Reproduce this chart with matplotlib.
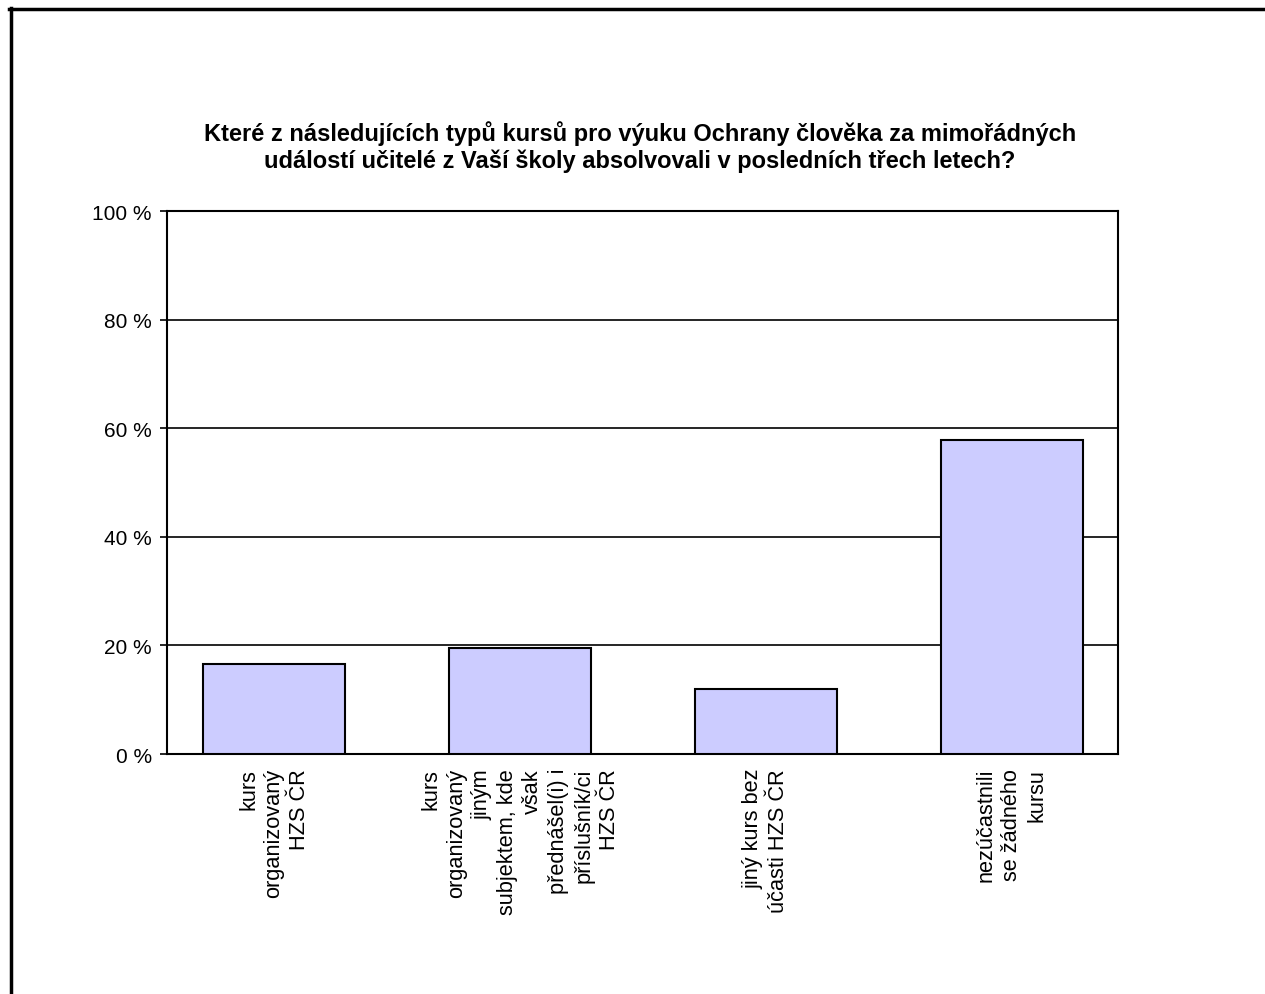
import numpy as np
import matplotlib.pyplot as plt
from matplotlib.lines import Line2D

plt.rcParams['font.family'] = ['Liberation Sans', 'DejaVu Sans']

# survey answers (share of schools, %)
categories = ["kurs\norganizovaný\nHZS ČR",
              "kurs\norganizovaný\njiným\nsubjektem, kde\nvšak\npřednášel(i) i\npříslušník/ci\nHZS ČR",
              "jiný kurs bez\núčasti HZS ČR",
              "nezúčastnili\nse žádného\nkursu"]
values = [16.6, 19.5, 11.9, 57.8]
yticks = [0, 20, 40, 60, 80, 100]
ytick_labels = ["0 %", "20 %", "40 %", "60 %", "80 %", "100 %"]
title = ("Které z následujících typů kursů pro výuku Ochrany člověka za mimořádných\n"
         "událostí učitelé z Vaší školy absolvovali v posledních třech letech?")

fig = plt.figure(figsize=(12.65, 9.95), dpi=100)
ax = fig.add_axes([0.1320, 0.2412, 0.7518, 0.5457])

x = np.arange(len(values))
ax.bar(x, values, width=0.577, color='#CCCCFF', edgecolor='black', linewidth=1.5, zorder=3)

ax.set_ylim(0, 100)
ax.set_xlim(-0.435, 3.431)
ax.set_yticks(yticks)
ax.set_yticklabels(ytick_labels, fontsize=15)
ax.tick_params(axis='y', direction='out', length=5, width=1.2, pad=6)
ax.set_xticks([])
ax.yaxis.grid(True, color='black', linewidth=1.2, zorder=0)
ax.set_axisbelow(True)
for s in ax.spines.values():
    s.set_linewidth(1.5)

for xi, lab in zip(x, categories):
    ax.annotate(lab, xy=(xi, 0), xycoords=('data', 'axes fraction'),
                xytext=(0, -10), textcoords='offset points',
                rotation=90, ha='center', va='top', multialignment='right',
                fontsize=15.7, linespacing=1.28)

fig.text(640 / 1265, 0.8520, title, ha='center', va='center',
         fontsize=17, fontweight='bold', linespacing=1.22)

# frame around the chart (only top and left edges are visible)
fig.add_artist(Line2D([9 / 1265, 1.0], [1 - 9.5 / 995] * 2, color='black', linewidth=2.5,
                      transform=fig.transFigure))
fig.add_artist(Line2D([10.5 / 1265] * 2, [0.0, 1 - 8.5 / 995], color='black', linewidth=2.5,
                      transform=fig.transFigure))

fig.savefig('out.png', dpi=100)
